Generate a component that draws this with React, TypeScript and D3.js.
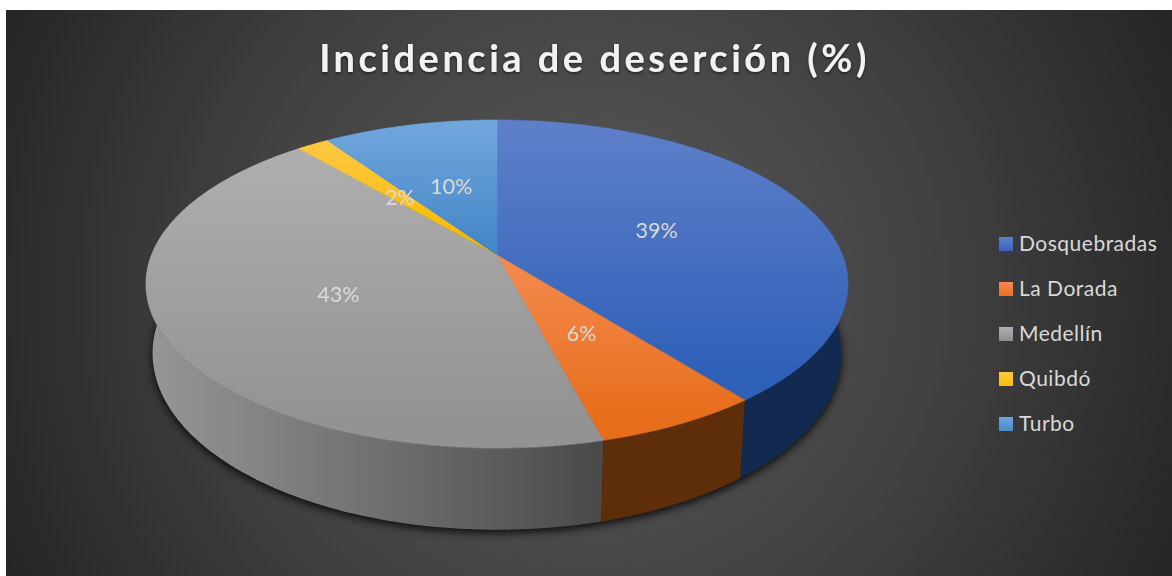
import React from 'react';
import * as d3 from 'd3';

const titleText = 'Incidencia de deserción (%)';
const cities = ['Dosquebradas', 'La Dorada', 'Medellín', 'Quibdó', 'Turbo'];
const shares = [39.4, 6.49, 42.85, 1.75, 9.51];
const topStops = [
  ['#5f80c9', '#2f60b8'],
  ['#f58b50', '#e66d1a'],
  ['#afafaf', '#939393'],
  ['#ffc845', '#f4bc00'],
  ['#72a7dd', '#4688c8'],
];
const swatchStops = [
  ['#5f80c9', '#3565bd'],
  ['#f58b50', '#ea6f1c'],
  ['#afafaf', '#8f8f8f'],
  ['#ffc845', '#f8c000'],
  ['#6ea5dc', '#4a8ccb'],
];
const sideFrom = ['#132a50', '#5e2d0a', '#969696', '#7a5c00', '#2c5c8a'];
const sideTo = ['#132a50', '#5e2d0a', '#4a4a4a', '#7a5c00', '#2c5c8a'];

const W = 1172;
const H = 576;
const tilt = 0.177; // perspective of the disc

// normalised disc coordinates -> pixels, upper and lower face
const topX = d3.scaleLinear().domain([-1, 1]).range([497 - 345.5, 497 + 345.5]);
const topY = d3.scaleLinear().domain([-1, 1]).range([255 - 158.9, 255 + 158.9]);
const botX = d3.scaleLinear().domain([-1, 1]).range([497 - 339, 497 + 339]);
const botY = d3.scaleLinear().domain([-1, 1]).range([322 - 171, 322 + 171]);

function project(theta: number, r: number, sx: any, sy: any): [number, number] {
  const u = Math.sin(theta) * r;
  const v = -Math.cos(theta) * r;
  const w = 1 - tilt * v;
  return [sx(u / w), sy(v / w)];
}

function arcPoints(a0: number, a1: number, sx: any, sy: any) {
  const n = Math.max(2, Math.ceil((a1 - a0) * 60));
  return d3.range(n + 1).map(i => project(a0 + ((a1 - a0) * i) / n, 1, sx, sy));
}

const pieData = d3.pie<number>().sort(null).value(d => d)(shares);
const line = d3.line();

export default function App() {
  const wedges = pieData.map((d, i) => {
    const top = arcPoints(d.startAngle, d.endAngle, topX, topY);
    const bottom = arcPoints(d.startAngle, d.endAngle, botX, botY);
    const mid = (d.startAngle + d.endAngle) / 2;
    // wall as small quads so the straight silhouette at the sides gets filled
    const side = d3
      .range(top.length - 1)
      .map(k => line([top[k], top[k + 1], bottom[k + 1], bottom[k]])! + 'Z')
      .join('');
    return {
      i,
      face: line([[topX(0), topY(0)], ...top])! + 'Z',
      side,
      label: project(mid, 0.5, topX, topY),
      text: d3.format('.0f')(d.value) + '%',
    };
  });
  const outline = line(arcPoints(0, Math.PI * 2, botX, botY))! + 'Z';
  // paint the back of the wall first
  const sideOrder = [4, 3, 0, 2, 1];

  return (
    <svg
      width={W}
      height={H}
      viewBox={`0 0 ${W} ${H}`}
      style={{ position: 'absolute', left: 0, top: 0, display: 'block', background: '#fff' }}
    >
      <defs>
        <radialGradient id="bg" gradientUnits="userSpaceOnUse" cx={589} cy={293} r={640}>
          <stop offset="0" stopColor="#5a5a5a" />
          <stop offset="0.55" stopColor="#414141" />
          <stop offset="1" stopColor="#262626" />
        </radialGradient>
        <filter id="drop" x="-10%" y="-10%" width="120%" height="125%">
          <feGaussianBlur stdDeviation="4" />
        </filter>
        <filter id="titleShadow" x="-5%" y="-20%" width="110%" height="150%">
          <feDropShadow dx="0" dy="1.5" stdDeviation="1.5" floodColor="#000" floodOpacity="0.55" />
        </filter>
        {cities.map((c, i) => (
          <linearGradient key={c} id={`top${i}`} x1="0" y1="0" x2="0" y2="1">
            <stop offset="0" stopColor={topStops[i][0]} />
            <stop offset="0.9" stopColor={topStops[i][1]} />
          </linearGradient>
        ))}
        {cities.map((c, i) => (
          <linearGradient key={c} id={`swatch${i}`} x1="0" y1="0" x2="0" y2="1">
            <stop offset="0" stopColor={swatchStops[i][0]} />
            <stop offset="1" stopColor={swatchStops[i][1]} />
          </linearGradient>
        ))}
        {cities.map((c, i) => (
          <linearGradient key={c} id={`side${i}`} gradientUnits="userSpaceOnUse" x1={150} y1="0" x2={600} y2="0">
            <stop offset="0" stopColor={sideFrom[i]} />
            <stop offset="1" stopColor={sideTo[i]} />
          </linearGradient>
        ))}
      </defs>

      <rect x={6} y={10} width={W - 6} height={H - 10} fill="url(#bg)" />

      <text
        x={594.5}
        y={71.5}
        textAnchor="middle"
        fontFamily="Lato"
        fontWeight={700}
        fontSize={38}
        letterSpacing={3.5}
        fill="#f2f2f2"
        filter="url(#titleShadow)"
      >
        {titleText}
      </text>

      <path d={outline} fill="#000" opacity={0.85} filter="url(#drop)" transform="translate(0,3)" />

      {sideOrder.map(i => (
        <path key={i} d={wedges[i].side} fill={`url(#side${i})`} />
      ))}
      {wedges.map(w => (
        <path
          key={w.i}
          d={w.face}
          fill={`url(#top${w.i})`}
          stroke={`url(#top${w.i})`}
          strokeWidth={0.6}
          strokeLinejoin="round"
        />
      ))}
      {wedges.map(w => (
        <text
          key={w.i}
          x={w.label[0] + 1}
          y={w.label[1] + 1}
          dy="0.35em"
          textAnchor="middle"
          fontFamily="Lato"
          fontSize={21.5}
          fill="#d9d9d9"
        >
          {w.text}
        </text>
      ))}

      {cities.map((c, i) => (
        <g key={c} transform={`translate(999,${237 + i * 45})`}>
          <rect width={14} height={14} fill={`url(#swatch${i})`} />
          <text x={20} y={14} fontFamily="Lato" fontSize={21} letterSpacing={0.5} fill="#d9d9d9">
            {c}
          </text>
        </g>
      ))}
    </svg>
  );
}
